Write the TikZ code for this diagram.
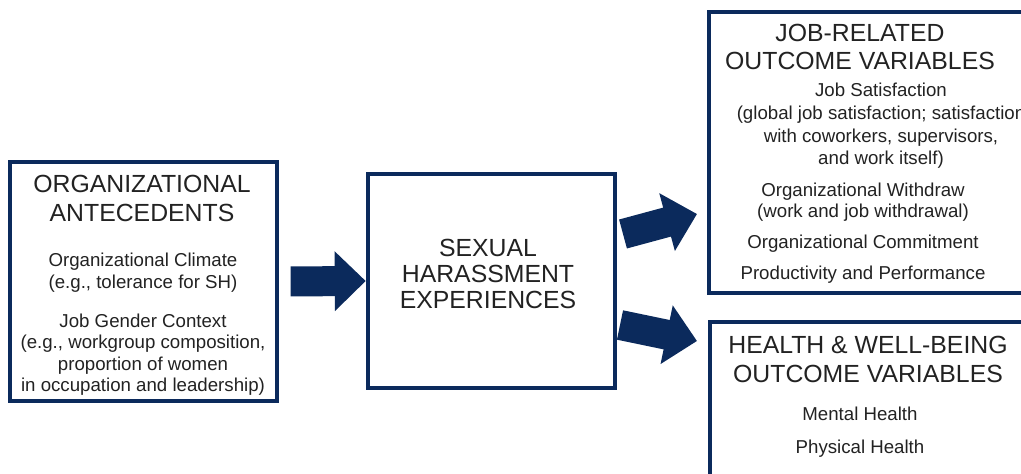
\documentclass[tikz,border=0pt]{standalone}
\usepackage{fontspec}
\setmainfont{Liberation Sans}
\usetikzlibrary{arrows.meta}
\definecolor{navy}{HTML}{0B2A5C}
\definecolor{ink}{HTML}{222222}

\begin{document}
\begin{tikzpicture}[x=0.75pt,y=0.75pt,
    box/.style={draw=navy, line width=2.4pt, rectangle, inner sep=0pt},
    head/.style={anchor=base, inner sep=0pt, text=ink, font=\fontsize{18.6}{22}\selectfont},
    body/.style={anchor=base, inner sep=0pt, text=ink, font=\fontsize{14}{16}\selectfont},
    fat/.style={navy, line width=22.5pt, -{Triangle[length=23.25pt, width=43.5pt]}}]

    \useasboundingbox (0,0) rectangle (1021,-474);
    \clip (0,0) rectangle (1021,-474);

% boxes
    \node[box, minimum width=200.25pt, minimum height=179.25pt] (antec) at (143.5,-281.5) {};
    \node[box, minimum width=185.25pt, minimum height=160.5pt] (sharass) at (491.5,-281) {};
    \node[box, minimum width=248.25pt, minimum height=210.75pt] (jobout) at (874.5,-152.5) {};
    \node[box, minimum width=247.5pt, minimum height=133.5pt] (healthout) at (875,-411) {};

% texts
    \foreach \y/\t [count=\i] in {193/ORGANIZATIONAL, 222/ANTECEDENTS}
        \node[head] (antechead\i) at (142,-\y) {\t};
    \foreach \y/\t [count=\i] in {267/Organizational Climate, 288/{(e.g., tolerance for SH)},
        327/Job Gender Context, 348/{(e.g., workgroup composition,}, 370/proportion of women,
        391/{in occupation and leadership)}}
        \node[body] (antecbody\i) at (143,-\y) {\t};

    \foreach \y/\t [count=\i] in {257/SEXUAL, 282/HARASSMENT, 308/EXPERIENCES}
        \node[head] (sharasshead\i) at (488,-\y) {\t};

    \foreach \y/\t [count=\i] in {42/JOB-RELATED, 70/OUTCOME VARIABLES}
        \node[head] (jobhead\i) at (860,-\y) {\t};
    \foreach \y/\t [count=\i] in {97/Job Satisfaction, 120/{(global job satisfaction; satisfaction},
        143/{with coworkers, supervisors,}, 165/{and work itself)}}
        \node[body] (jobsat\i) at (881,-\y) {\t};
    \foreach \y/\t [count=\i] in {197/Organizational Withdraw, 218/{(work and job withdrawal)},
        248/Organizational Commitment, 279/Productivity and Performance}
        \node[body] (jobbody\i) at (863,-\y) {\t};

    \foreach \y/\t [count=\i] in {353/HEALTH \& WELL-BEING, 382/OUTCOME VARIABLES}
        \node[head] (healthhead\i) at (868,-\y) {\t};
    \foreach \y/\t [count=\i] in {420/Mental Health, 453/Physical Health}
        \node[body] (healthbody\i) at (860,-\y) {\t};

% arrows
    \coordinate (up0) at (623,-234);
    \coordinate (up1) at (697,-214);
    \coordinate (dn0) at (620,-325);
    \coordinate (dn1) at (697,-341);

    \draw[fat, shorten <=9pt, shorten >=0.5pt] (antec.east) -- (sharass.west);
    \draw[fat] (up0) -- (up1);
    \draw[fat] (dn0) -- (dn1);

\end{tikzpicture}
\end{document}
